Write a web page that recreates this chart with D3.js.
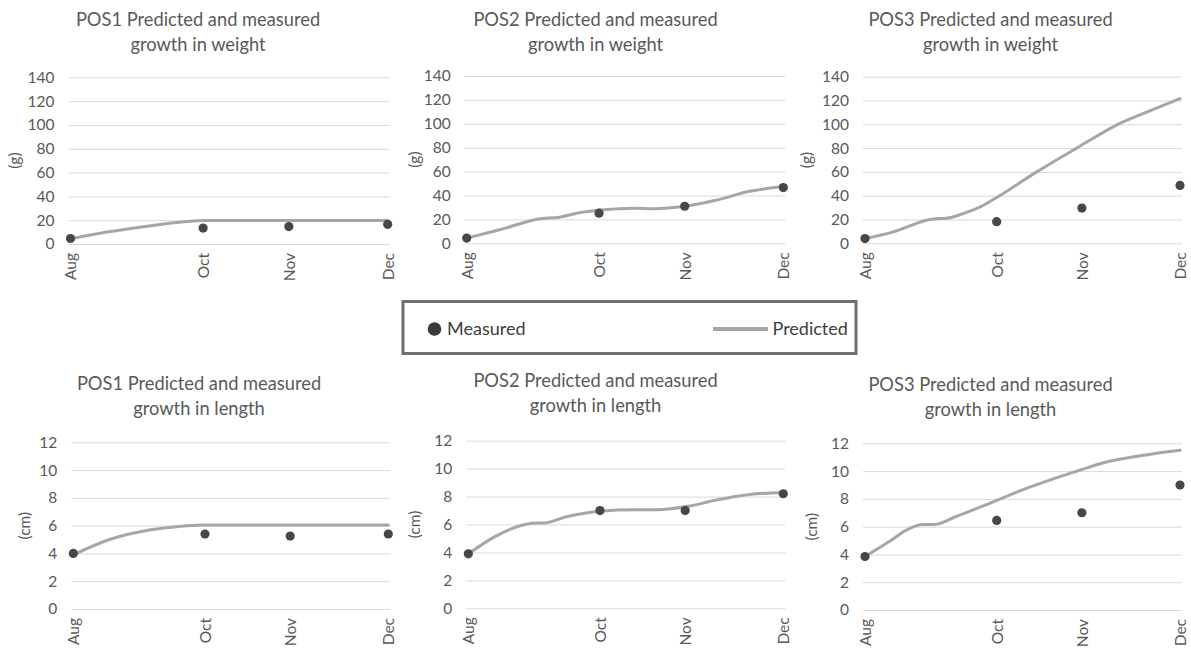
<!DOCTYPE html>
<html>
<head>
<meta charset="utf-8">
<script src="https://cdn.jsdelivr.net/npm/d3@7"></script>
<style>
  html, body { margin: 0; padding: 0; background: #fff; }
  svg { display: block; font-family: Lato, "Open Sans", sans-serif; }
</style>
</head>
<body>
<svg id="chart" width="1191" height="652"></svg>
<script>
// ---- Data ----
const monthLabels = ["Aug", "Oct", "Nov", "Dec"];
const monthDays = [0, 51, 84, 122];           // day offset of each sampling month

const weightTicks = [0, 20, 40, 60, 80, 100, 120, 140];
const lengthTicks = [0, 2, 4, 6, 8, 10, 12];

// Predicted curves (day offset, value)
const predDaysPOS1W = [0, 14, 28, 40, 51, 84, 122];
const predValsPOS1W = [4.3, 10, 14.5, 17.8, 19.8, 19.8, 19.8];

const predDaysPOS2W = [0, 13, 29, 35, 42, 53, 64, 72, 84, 96, 109, 122];
const predValsPOS2W = [4.3, 11.5, 20.8, 21.5, 25, 28, 29.3, 29, 31, 36, 43.5, 47.5];

const predDaysPOS3W = [0, 10, 26.5, 31.5, 38, 45, 51, 66.5, 82, 98, 110, 122];
const predValsPOS3W = [4, 9, 20.5, 21, 25, 31, 38.5, 60, 80, 100, 111, 121.5];

const predDaysPOS1L = [0, 14, 30, 44, 51, 84, 122];
const predValsPOS1L = [3.9, 5.0, 5.7, 6.0, 6.05, 6.05, 6.05];

const predDaysPOS2L = [0, 10, 17.5, 26.5, 29, 38, 51, 64, 73, 85, 96, 109, 122];
const predValsPOS2L = [3.9, 5.1, 5.75, 6.1, 6.1, 6.55, 6.95, 7.05, 7.05, 7.3, 7.75, 8.15, 8.3];

const predDaysPOS3L = [0, 10, 16, 22.5, 26.5, 35.5, 48.5, 61, 71.5, 83, 93.5, 106.5, 122];
const predValsPOS3L = [3.85, 5.0, 5.75, 6.15, 6.15, 6.75, 7.7, 8.65, 9.35, 10.05, 10.65, 11.1, 11.5];

// Measured values at Aug, Oct, Nov, Dec
const measPOS1W = [4.6, 13.4, 14.6, 16.5];
const measPOS2W = [4.4, 25.2, 31, 46.6];
const measPOS3W = [4, 18.2, 29.6, 48.6];
const measPOS1L = [4.0, 5.4, 5.25, 5.4];
const measPOS2L = [3.9, 7.0, 7.0, 8.2];
const measPOS3L = [3.85, 6.45, 7.0, 9.0];

const titles = [
  ["POS1 Predicted and measured", "growth in weight"],
  ["POS2 Predicted and measured", "growth in weight"],
  ["POS3 Predicted and measured", "growth in weight"],
  ["POS1 Predicted and measured", "growth in length"],
  ["POS2 Predicted and measured", "growth in length"],
  ["POS3 Predicted and measured", "growth in length"]
];

// ---- Layout per panel ----
const panels = [
  {x0: 70.5, x1: 387.7, yTop: 77.3, yBot: 244, ticks: weightTicks, max: 140, unit: "(g)",  labX: 15,  titleX: 198,   titleY: 26,  pd: predDaysPOS1W, pv: predValsPOS1W, m: measPOS1W},
  {x0: 466.7, x1: 783.3, yTop: 76,  yBot: 243.3, ticks: weightTicks, max: 140, unit: "(g)", labX: 415, titleX: 595.5, titleY: 26,  pd: predDaysPOS2W, pv: predValsPOS2W, m: measPOS2W},
  {x0: 865,  x1: 1180,  yTop: 76.7, yBot: 243.3, ticks: weightTicks, max: 140, unit: "(g)", labX: 807, titleX: 990.5, titleY: 26,  pd: predDaysPOS3W, pv: predValsPOS3W, m: measPOS3W},
  {x0: 73.3, x1: 388.3, yTop: 442.3, yBot: 609, ticks: lengthTicks, max: 12, unit: "(cm)", labX: 25, titleX: 199, titleY: 390, pd: predDaysPOS1L, pv: predValsPOS1L, m: measPOS1L},
  {x0: 468.3, x1: 783.3, yTop: 440.7, yBot: 608.3, ticks: lengthTicks, max: 12, unit: "(cm)", labX: 415, titleX: 595.5, titleY: 387, pd: predDaysPOS2L, pv: predValsPOS2L, m: measPOS2L},
  {x0: 865,  x1: 1180,  yTop: 443.3, yBot: 610, ticks: lengthTicks, max: 12, unit: "(cm)", labX: 812, titleX: 990.5, titleY: 391, pd: predDaysPOS3L, pv: predValsPOS3L, m: measPOS3L}
];

const textColor = "#595959";
const gridColor = "#d9d9d9";
const lineColor = "#a6a6a6";
const markColor = "#474747";
const tickFont = "15.5px";

const svg = d3.select("#chart");

panels.forEach((p, i) => {
  const g = svg.append("g");
  const x = d3.scaleLinear().domain([0, 122]).range([p.x0, p.x1]);
  const y = d3.scaleLinear().domain([0, p.max]).range([p.yBot, p.yTop]);

  // title
  const t = g.append("text")
    .attr("x", p.titleX).attr("y", p.titleY)
    .attr("text-anchor", "middle")
    .attr("fill", textColor)
    .style("font-size", "18.3px");
  t.append("tspan").attr("x", p.titleX).attr("dy", 0).text(titles[i][0]);
  t.append("tspan").attr("x", p.titleX).attr("dy", 24.5).text(titles[i][1]);

  // gridlines + y tick labels via axis
  const yAxis = d3.axisLeft(y).tickValues(p.ticks)
    .tickSize(-(p.x1 - p.x0 + 4)).tickPadding(14).tickFormat(d3.format("d"));
  const ya = g.append("g").attr("transform", `translate(${p.x0 - 2},0)`).call(yAxis);
  ya.select(".domain").remove();
  ya.selectAll(".tick line").attr("stroke", gridColor).attr("stroke-width", 1);
  ya.selectAll(".tick text").attr("fill", textColor).style("font-size", tickFont)
    .style("font-family", "Lato, 'Open Sans', sans-serif");

  // x axis labels (rotated)
  const xAxis = d3.axisBottom(x).tickValues(monthDays)
    .tickFormat((d, k) => monthLabels[k]).tickSize(0);
  const xa = g.append("g").attr("transform", `translate(0,${p.yBot})`).call(xAxis);
  xa.select(".domain").remove();
  xa.selectAll(".tick text")
    .attr("fill", textColor).style("font-size", tickFont)
    .style("font-family", "Lato, 'Open Sans', sans-serif")
    .attr("transform", "rotate(-90)")
    .attr("text-anchor", "end")
    .attr("x", -9).attr("y", 0).attr("dy", "0.35em");

  // y axis title
  const cy = (p.yTop + p.yBot) / 2;
  g.append("text")
    .attr("transform", `translate(${p.labX},${cy}) rotate(-90)`)
    .attr("text-anchor", "middle").attr("dy", "0.35em")
    .attr("fill", textColor).style("font-size", tickFont)
    .text(p.unit);

  // predicted line
  const pts = p.pd.map((d, k) => [d, p.pv[k]]);
  const line = d3.line().x(d => x(d[0])).y(d => y(d[1])).curve(d3.curveMonotoneX);
  g.append("path").datum(pts)
    .attr("d", line).attr("fill", "none")
    .attr("stroke", lineColor).attr("stroke-width", 3)
    .attr("stroke-linejoin", "round").attr("stroke-linecap", "round");

  // measured points
  g.selectAll("circle.m").data(p.m).join("circle")
    .attr("class", "m")
    .attr("cx", (d, k) => x(monthDays[k]))
    .attr("cy", d => y(d))
    .attr("r", 4.6)
    .attr("fill", markColor);
});

// ---- Legend ----
const lg = svg.append("g");
lg.append("rect").attr("x", 403).attr("y", 301.5).attr("width", 453).attr("height", 52)
  .attr("fill", "#fff").attr("stroke", "#6f6f6f").attr("stroke-width", 3);
lg.append("circle").attr("cx", 434.5).attr("cy", 329).attr("r", 6.8).attr("fill", "#3a3a3a");
lg.append("text").attr("x", 447).attr("y", 334.5).attr("fill", "#404040")
  .style("font-size", "18px").text("Measured");
lg.append("line").attr("x1", 713).attr("x2", 768).attr("y1", 329).attr("y2", 329)
  .attr("stroke", lineColor).attr("stroke-width", 4);
lg.append("text").attr("x", 772.5).attr("y", 334.5).attr("fill", "#404040")
  .style("font-size", "18px").text("Predicted");
</script>
</body>
</html>
